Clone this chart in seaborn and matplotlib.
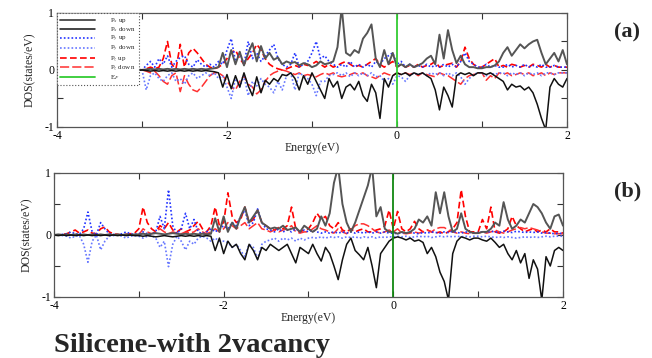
import numpy as np
import pandas as pd
import seaborn as sns
import matplotlib.pyplot as plt

# energy grid (eV), 0.05 eV step from -4 to 2
energy = np.round(np.arange(-4.0, 2.0001, 0.05), 2)
ef = 0.0

# ---------------- panel (a) ----------------
a_px_up = [0.00,0.01,0.00,0.01,0.00,0.01,0.00,0.01,0.00,0.01,0.00,0.01,0.00,0.01,0.00,0.01,0.00,0.01,0.00,0.01,
           0.00,0.01,0.02,0.01,0.02,0.01,0.02,0.01,0.02,0.01,0.02,0.01,0.02,0.01,0.02,0.01,0.02,0.03,0.05,0.30,
           0.05,0.35,0.10,0.32,0.08,0.30,0.47,0.15,0.42,0.20,0.30,0.18,0.22,0.10,0.15,0.12,0.14,0.08,0.12,0.10,
           0.05,0.08,0.15,0.10,0.12,0.15,0.40,1.10,0.30,0.25,0.35,0.30,0.55,0.65,0.80,0.20,0.05,0.35,0.10,0.30,
           0.05,0.10,0.05,0.10,0.05,0.08,0.12,0.20,0.25,0.10,0.62,0.20,0.70,0.35,0.12,0.25,0.10,0.05,0.05,0.03,
           0.03,0.05,0.05,0.08,0.15,0.30,0.40,0.25,0.35,0.45,0.38,0.45,0.50,0.53,0.30,0.10,0.20,0.30,0.15,0.35,
           0.10]
a_px_dn = [-0.00,-0.01,-0.00,-0.01,-0.00,-0.01,-0.00,-0.01,-0.00,-0.01,-0.00,-0.01,-0.00,-0.01,-0.00,-0.01,-0.00,-0.01,-0.00,-0.01,
           -0.00,-0.01,-0.02,-0.01,-0.02,-0.01,-0.02,-0.01,-0.02,-0.01,-0.02,-0.01,-0.02,-0.01,-0.02,-0.01,-0.02,-0.03,-0.05,-0.30,
           -0.08,-0.33,-0.10,-0.30,-0.05,-0.28,-0.45,-0.12,-0.40,-0.18,-0.25,-0.15,-0.20,-0.08,-0.10,-0.05,-0.15,-0.35,-0.10,-0.25,
           -0.05,-0.20,-0.35,-0.50,-0.15,-0.30,-0.20,-0.50,-0.30,-0.25,-0.35,-0.20,-0.45,-0.55,-0.25,-0.40,-0.85,-0.15,-0.30,-0.10,
           -0.05,-0.08,-0.05,-0.10,-0.05,-0.08,-0.05,-0.10,-0.15,-0.35,-0.70,-0.30,-0.45,-0.65,-0.10,-0.05,-0.08,-0.05,-0.10,-0.05,
           -0.05,-0.08,-0.05,-0.10,-0.15,-0.20,-0.35,-0.25,-0.30,-0.28,-0.35,-0.30,-0.40,-0.60,-0.85,-1.05,-0.30,-0.15,-0.25,-0.30,
           -0.15]
a_py_up = [0.00]*20 + \
          [0.00,0.08,0.15,0.05,0.20,0.10,0.25,0.05,0.15,0.22,0.25,0.10,0.05,0.18,0.10,0.05,0.10,0.05,0.15,0.10,
           0.35,0.55,0.15,0.30,0.10,0.50,0.20,0.30,0.15,0.25,0.35,0.45,0.20,0.10,0.05,0.10,0.30,0.05,0.10,0.15,
           0.30,0.50,0.20,0.25,0.15,0.10,0.05,0.10,0.05,0.15,0.05,0.10,0.05,0.10,0.05,0.15,0.10,0.20,0.25,0.30,
           0.10,0.15,0.05,0.10,0.05,0.08,0.05,0.10,0.05,0.08,0.05,0.10,0.05,0.10,0.05,0.15,0.30,0.15,0.10,0.05,
           0.05,0.10,0.05,0.08,0.05,0.05,0.10,0.05,0.08,0.05,0.10,0.05,0.08,0.05,0.10,0.05,0.05,0.08,0.05,0.05,
           0.05]
a_py_dn = [0.00]*20 + \
          [0.00,-0.35,-0.10,-0.05,-0.15,-0.20,-0.10,-0.05,-0.20,-0.15,-0.25,-0.10,-0.05,-0.15,-0.10,-0.05,-0.10,-0.05,-0.15,-0.10,
           -0.30,-0.50,-0.15,-0.30,-0.10,-0.45,-0.20,-0.28,-0.15,-0.25,-0.30,-0.40,-0.20,-0.35,-0.10,-0.05,-0.35,-0.05,-0.10,-0.15,
           -0.25,-0.45,-0.20,-0.20,-0.10,-0.08,-0.05,-0.10,-0.05,-0.12,-0.05,-0.10,-0.05,-0.10,-0.05,-0.12,-0.10,-0.20,-0.15,-0.25,
           -0.10,-0.12,-0.20,-0.10,-0.05,-0.08,-0.05,-0.10,-0.05,-0.08,-0.05,-0.10,-0.05,-0.10,-0.05,-0.12,-0.25,-0.15,-0.08,-0.05,
           -0.05,-0.10,-0.05,-0.08,-0.05,-0.05,-0.10,-0.05,-0.08,-0.05,-0.10,-0.05,-0.08,-0.05,-0.10,-0.05,-0.05,-0.08,-0.05,-0.05,
           -0.05]
a_pz_up = [0.00]*20 + \
          [0.00,0.02,0.05,0.02,0.05,0.20,0.50,0.10,0.02,0.45,0.05,0.30,0.38,0.30,0.20,0.10,0.05,0.02,0.05,0.10,
           0.20,0.30,0.35,0.20,0.10,0.20,0.30,0.45,0.35,0.20,0.10,0.05,0.02,0.00,0.02,0.05,0.08,0.05,0.10,0.08,
           0.10,0.15,0.10,0.05,0.10,0.05,0.08,0.12,0.15,0.10,0.05,0.08,0.05,0.10,0.15,0.20,0.10,0.05,0.10,0.15,
           0.05,0.10,0.05,0.08,0.05,0.10,0.05,0.08,0.10,0.15,0.05,0.08,0.10,0.12,0.05,0.15,0.40,0.20,0.10,0.05,
           0.05,0.10,0.15,0.20,0.05,0.08,0.05,0.10,0.08,0.05,0.08,0.05,0.10,0.08,0.05,0.10,0.05,0.08,0.05,0.05,
           0.05]
a_pz_dn = [0.00]*20 + \
          [0.00,-0.02,-0.05,-0.02,-0.10,-0.20,-0.25,-0.10,-0.05,-0.38,-0.10,-0.25,-0.35,-0.38,-0.30,-0.20,-0.10,-0.05,-0.05,-0.10,
           -0.20,-0.30,-0.35,-0.20,-0.10,-0.25,-0.30,-0.42,-0.35,-0.20,-0.10,-0.05,-0.02,0.00,-0.02,-0.05,-0.08,-0.05,-0.10,-0.08,
           -0.10,-0.12,-0.08,-0.05,-0.08,-0.05,-0.10,-0.12,-0.10,-0.08,-0.05,-0.08,-0.05,-0.10,-0.12,-0.15,-0.10,-0.05,-0.08,-0.10,
           -0.05,-0.08,-0.05,-0.08,-0.05,-0.10,-0.05,-0.08,-0.10,-0.12,-0.05,-0.08,-0.10,-0.15,-0.20,-0.25,-0.15,-0.10,-0.08,-0.05,
           -0.05,-0.18,-0.10,-0.15,-0.05,-0.08,-0.05,-0.10,-0.08,-0.05,-0.08,-0.05,-0.10,-0.08,-0.05,-0.10,-0.05,-0.08,-0.05,-0.05,
           -0.05]

# ---------------- panel (b) ----------------
b_px_up = [0.00,0.01,0.00,0.01,0.00,0.01,0.00,0.01,0.00,0.01,0.00,0.01,0.00,0.01,0.00,0.01,0.00,0.01,0.00,0.01,
           0.01,0.02,0.01,0.02,0.03,0.02,0.01,0.02,0.03,0.02,0.01,0.02,0.01,0.02,0.01,0.02,0.01,0.02,0.27,0.05,
           0.30,0.05,0.20,0.10,0.30,0.45,0.20,0.30,0.40,0.20,0.15,0.10,0.12,0.10,0.15,0.08,0.10,0.12,0.05,0.15,
           0.10,0.05,0.10,0.30,0.15,0.35,0.84,1.10,0.50,0.20,0.05,0.20,0.40,0.60,0.80,1.10,0.30,0.45,0.10,0.05,
           0.05,0.02,0.05,0.03,0.05,0.10,0.25,0.20,0.30,0.15,0.69,0.35,0.69,0.30,0.05,0.10,0.35,0.10,0.05,0.03,
           0.03,0.05,0.05,0.10,0.20,0.15,0.53,0.25,0.10,0.15,0.25,0.20,0.35,0.50,0.45,0.35,0.20,0.10,0.30,0.33,
           0.15]
b_px_dn = [-0.00,-0.01,-0.00,-0.01,-0.00,-0.01,-0.00,-0.01,-0.00,-0.01,-0.00,-0.01,-0.00,-0.01,-0.00,-0.01,-0.00,-0.01,-0.00,-0.01,
           -0.01,-0.02,-0.01,-0.02,-0.03,-0.02,-0.01,-0.02,-0.03,-0.02,-0.01,-0.02,-0.01,-0.02,-0.01,-0.02,-0.01,-0.02,-0.25,-0.05,
           -0.30,-0.10,-0.20,-0.15,-0.30,-0.40,-0.15,-0.25,-0.40,-0.20,-0.25,-0.15,-0.20,-0.25,-0.20,-0.15,-0.30,-0.45,-0.20,-0.25,
           -0.30,-0.15,-0.30,-0.42,-0.20,-0.30,-0.50,-0.72,-0.40,-0.15,-0.05,-0.25,-0.32,-0.40,-0.20,-0.50,-0.85,-0.30,-0.20,-0.10,
           -0.05,-0.03,-0.05,-0.08,-0.05,-0.10,-0.08,-0.12,-0.30,-0.20,-0.35,-0.60,-0.75,-1.05,-0.30,-0.10,-0.03,-0.05,-0.08,-0.05,
           -0.05,-0.08,-0.10,-0.05,-0.12,-0.20,-0.15,-0.30,-0.40,-0.25,-0.45,-0.30,-0.70,-0.40,-0.55,-1.05,-0.35,-0.50,-0.25,-0.20,
           -0.25]
b_py_up = [0.00,0.00,0.01,0.02,0.05,0.02,0.01,0.10,0.37,0.05,0.00,0.20,0.10,0.02,0.01,0.00,0.02,0.05,0.02,0.01,
           0.02,0.05,0.02,0.01,0.05,0.30,0.10,0.73,0.15,0.02,0.10,0.35,0.10,0.25,0.05,0.02,0.05,0.10,0.05,0.10,
           0.15,0.10,0.20,0.15,0.30,0.40,0.15,0.20,0.42,0.20,0.10,0.08,0.05,0.10,0.05,0.08,0.05,0.10,0.05,0.08,
           0.05,0.08,0.05,0.03,0.05,0.03,0.05,0.03,0.05,0.03,0.05,0.03,0.05,0.03,0.05,0.03,0.05,0.03,0.05,0.03,
           0.03,0.02,0.04,0.03,0.05,0.03,0.02,0.04,0.03,0.05,0.04,0.03,0.05,0.04,0.06,0.04,0.03,0.05,0.04,0.03,
           0.04,0.05,0.04,0.06,0.05,0.04,0.06,0.05,0.04,0.06,0.05,0.04,0.05,0.04,0.05,0.03,0.04,0.03,0.02,0.03,
           0.02]
b_py_dn = [0.00,0.00,-0.01,-0.02,-0.05,-0.02,-0.01,-0.15,-0.44,-0.10,0.00,-0.24,-0.10,-0.02,-0.01,0.00,-0.02,-0.05,-0.02,-0.01,
           -0.02,-0.05,-0.02,-0.01,-0.05,-0.20,-0.10,-0.51,-0.15,-0.02,-0.10,-0.24,-0.10,-0.15,-0.05,-0.02,-0.05,-0.10,-0.05,-0.10,
           -0.10,-0.12,-0.20,-0.15,-0.25,-0.35,-0.15,-0.20,-0.38,-0.15,-0.10,-0.08,-0.05,-0.10,-0.05,-0.08,-0.05,-0.10,-0.05,-0.08,
           -0.05,-0.04,-0.05,-0.03,-0.05,-0.03,-0.04,-0.03,-0.05,-0.03,-0.04,-0.03,-0.05,-0.03,-0.04,-0.03,-0.05,-0.03,-0.04,-0.03,
           -0.03,-0.02,-0.03,-0.02,-0.04,-0.03,-0.02,-0.03,-0.02,-0.04,-0.03,-0.02,-0.03,-0.02,-0.03,-0.02,-0.03,-0.02,-0.03,-0.02,
           -0.02,-0.03,-0.02,-0.03,-0.04,-0.03,-0.04,-0.03,-0.04,-0.05,-0.04,-0.03,-0.04,-0.03,-0.04,-0.03,-0.02,-0.03,-0.02,-0.02,
           -0.02]
b_pz_up = [0.00,0.00,0.01,0.02,0.05,0.08,0.03,0.05,0.08,0.03,0.02,0.10,0.13,0.05,0.02,0.01,0.00,0.01,0.02,0.03,
           0.10,0.45,0.20,0.10,0.05,0.15,0.10,0.20,0.08,0.05,0.10,0.05,0.08,0.15,0.22,0.10,0.05,0.15,0.45,0.15,
           0.20,0.68,0.30,0.20,0.25,0.45,0.20,0.25,0.40,0.20,0.15,0.10,0.08,0.12,0.10,0.15,0.45,0.10,0.05,0.08,
           0.10,0.20,0.35,0.25,0.30,0.15,0.10,0.20,0.08,0.05,0.10,0.05,0.08,0.10,0.05,0.05,0.08,0.10,0.15,0.40,
           0.10,0.38,0.10,0.05,0.10,0.22,0.10,0.05,0.08,0.05,0.03,0.05,0.02,0.05,0.10,0.20,0.73,0.30,0.05,0.05,
           0.05,0.25,0.10,0.45,0.05,0.03,0.05,0.10,0.30,0.15,0.10,0.05,0.08,0.10,0.05,0.08,0.05,0.10,0.05,0.05,
           0.03]
b_pz_dn = [0.00]*20 + \
          [0.00,0.10,0.05,0.02,0.05,0.10,0.05,0.02,0.05,0.03,0.02,0.05,0.03,0.05,0.10,0.05,0.02,0.05,0.10,0.05,
           0.10,0.20,0.15,0.10,0.15,0.20,0.10,0.15,0.20,0.10,0.08,0.05,0.08,0.05,0.08,0.10,0.15,0.05,0.03,0.05,
           0.05,0.10,0.15,0.10,0.08,0.05,0.03,0.10,0.05,0.02,0.08,0.15,0.18,0.18,0.15,0.10,0.05,0.03,0.05,0.08,
           0.05,0.10,0.03,0.02,0.03,0.05,0.03,0.05,0.08,0.05,0.10,0.12,0.12,0.08,0.05,0.03,0.05,0.03,0.02,0.03,
           0.03,0.05,0.03,0.05,0.08,0.05,0.03,0.05,0.08,0.10,0.12,0.10,0.12,0.10,0.08,0.05,0.03,0.03,0.02,0.02,
           0.02]

labels = [r'P$_x$ up', r'P$_x$ down', r'P$_y$ up', r'P$_y$ down', r'P$_z$ up', r'P$_z$ down']
styles = [dict(color='#555555', lw=1.4, ls='-'),
          dict(color='#111111', lw=1.1, ls='-'),
          dict(color='#2233ff', lw=1.2, ls=(0, (1, 1.3))),
          dict(color='#6677ff', lw=1.2, ls=(0, (1, 1.3))),
          dict(color='#ff0000', lw=1.2, ls=(0, (4, 2))),
          dict(color='#ff3030', lw=1.1, ls=(0, (6, 2)))]

sns.set_theme(style='ticks')
plt.rcParams['font.family'] = ['Liberation Serif', 'DejaVu Serif']
plt.rcParams['mathtext.fontset'] = 'stix'

fig = plt.figure(figsize=(6.52, 3.58), dpi=100)
ax_a = fig.add_axes([0.0874, 0.6453, 0.7822, 0.3184])
ax_b = fig.add_axes([0.0828, 0.1704, 0.7807, 0.3464])

panels = [(ax_a, [a_px_up, a_px_dn, a_py_up, a_py_dn, a_pz_up, a_pz_dn], '#33cc33'),
          (ax_b, [b_px_up, b_px_dn, b_py_up, b_py_dn, b_pz_up, b_pz_dn], '#118811')]

for ax, series, efc in panels:
    # red and blue first, black curves on top
    for idx in [4, 5, 2, 3, 0, 1]:
        df = pd.DataFrame({'E': energy, 'dos': series[idx]})
        sns.lineplot(data=df, x='E', y='dos', ax=ax, estimator=None,
                     label=labels[idx], legend=False, **styles[idx])
    ax.axvline(ef, color=efc, lw=1.3, label=r'E$_F$')
    ax.set_xlim(-4, 2)
    ax.set_ylim(-1, 1)
    ax.set_xticks([-4, -3, -2, -1, 0, 1, 2])
    ax.set_xticklabels(['-4', '', '-2', '', '0', '', '2'])
    ax.set_yticks([-1, -0.5, 0, 0.5, 1])
    ax.set_yticklabels(['-1', '', '0', '', '1'])
    ax.tick_params(direction='in', length=4, width=0.8, top=True, right=True,
                   labelsize=8.5, pad=2, colors='#333333', labelcolor='black')
    for sp in ax.spines.values():
        sp.set_color('#555555')
        sp.set_linewidth(0.9)
    ax.set_xlabel('Energy(eV)', fontsize=8.5, labelpad=0)
    ax.set_ylabel('DOS(states/eV)', fontsize=8.5, labelpad=6)

h, l = ax_a.get_legend_handles_labels()
order = [l.index(x) for x in labels + [r'E$_F$']]
leg = ax_a.legend([h[i] for i in order], [l[i] for i in order], loc='upper left',
                  fontsize=5, handlelength=5, handletextpad=2.2, labelspacing=0.0,
                  handleheight=0.4, borderpad=0.4, borderaxespad=0.05,
                  fancybox=False, framealpha=1)
leg.get_frame().set_linestyle(':')
leg.get_frame().set_edgecolor('#555555')
leg.get_frame().set_linewidth(0.8)

fig.text(0.962, 0.908, '(a)', fontsize=16, fontweight='bold', ha='center', va='center')
fig.text(0.963, 0.464, '(b)', fontsize=16, fontweight='bold', ha='center', va='center')
fig.text(0.083, 0.018, 'Silicene-with 2vacancy', fontsize=20.5, fontweight='bold', ha='left', va='baseline')

fig.savefig('out.png', dpi=100)
